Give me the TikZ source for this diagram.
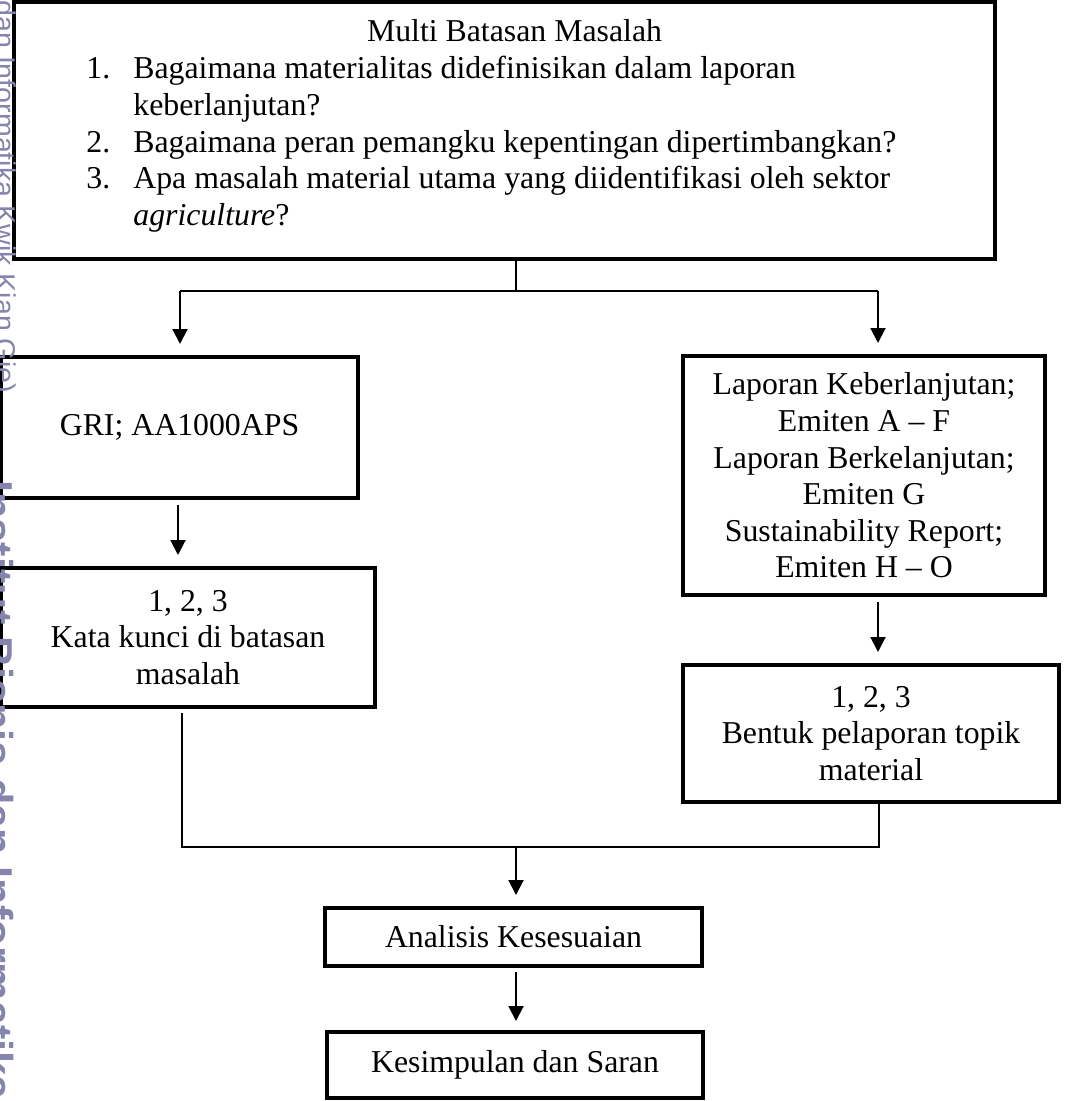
\documentclass[tikz,border=0pt]{standalone}
\usepackage{fontspec}
\setmainfont{Liberation Serif}
\newfontfamily\wmfont{Liberation Sans}
\usetikzlibrary{arrows.meta}
\definecolor{wmcol}{RGB}{132,132,172}
\begin{document}
\begin{tikzpicture}[x=0.5pt,y=-0.5pt,
  box/.style={draw, line width=2pt, inner sep=0pt, align=center,
    font=\fontsize{15.9pt}{18.3pt}\selectfont},
  txt/.style={inner sep=0pt, font=\fontsize{15.9pt}{18.3pt}\selectfont},
  conn/.style={line width=1pt},
  arr/.style={line width=1pt, -{Triangle[width=7.5pt,length=7.5pt]}, shorten >=5.5pt},
  wmark/.style={rotate=-90, inner sep=0pt, text=wmcol},
  ]
\useasboundingbox (0,0) rectangle (1065,1101);
% boxes
\node[box, minimum width=490.5pt, minimum height=128.5pt] (top) at (504.5,130.5) {};
\node[txt, anchor=base] (title) at (514.5,42) {Multi Batasan Masalah};
\node[txt, anchor=base west] (list) at (86,79) {\begin{tabular}[t]{@{}p{23.5pt}@{}l@{}}
1. & Bagaimana materialitas didefinisikan dalam laporan\\
   & keberlanjutan?\\
2. & Bagaimana peran pemangku kepentingan dipertimbangkan?\\
3. & Apa masalah material utama yang diidentifikasi oleh sektor\\
   & \textit{agriculture}?
\end{tabular}};
\node[box, minimum width=178.5pt, minimum height=70.5pt] (gri) at (179.5,427.5) {\raisebox{-2pt}{GRI; AA1000APS}};
\node[box, minimum width=187pt, minimum height=69.5pt] (kata) at (188,637.5) {1, 2, 3\\Kata kunci di batasan\\masalah};
\node[box, minimum width=181pt, minimum height=119.5pt] (lap) at (864,475.5) {Laporan Keberlanjutan;\\Emiten A -- F\\ Laporan Berkelanjutan;\\Emiten G\\Sustainability Report;\\Emiten H -- O};
\node[box, minimum width=188pt, minimum height=68.5pt] (bentuk) at (871,733.5) {1, 2, 3\\Bentuk pelaporan topik\\material};
\node[box, minimum width=188.5pt, minimum height=29pt] (ana) at (513.5,937) {Analisis Kesesuaian};
\node[box, minimum width=188pt, minimum height=33pt] (kes) at (515,1065) {\raisebox{-1.5pt}{Kesimpulan dan Saran}};
% junctions
\coordinate (s1) at (516,291);
\coordinate (jl) at (180,291);
\coordinate (jr) at (878,291);
\coordinate (xa) at (178,0);
\coordinate (bl) at (182,847);
\coordinate (br) at (879,847);
\coordinate (bm) at (516,847);
% connectors
\draw[conn] (top.south -| s1) -- (s1);
\draw[conn] (jl) -- (jr);
\draw[arr] (jl) -- (jl |- gri.north);
\draw[arr] (jr) -- (jr |- lap.north);
\draw[arr, shorten <=2.5pt] (gri.south -| xa) -- (kata.north -| xa);
\draw[arr, shorten <=2.5pt] (lap.south -| jr) -- (bentuk.north -| jr);
\draw[conn, shorten <=2pt] (kata.south -| bl) -- (bl) -- (br) -- (bentuk.south -| br);
\draw[arr] (bm) -- (ana.north -| bm);
\draw[arr, shorten <=2pt, shorten >=4.5pt] (ana.south -| bm) -- (kes.north -| bm);
% watermark
\begin{scope}
\clip (0,0) rectangle (1065,1101);
\node[wmark, anchor=base west, font=\wmfont\fontsize{14.3pt}{14.3pt}\selectfont] (wma) at (-4,0) {dan Informatika Kwik Kian Gie)};
\node[wmark, anchor=base west, font=\wmfont\bfseries\fontsize{21.6pt}{21.6pt}\selectfont] (wmb) at (-18,480) {Institut Bisnis dan Informatika};
\end{scope}
\end{tikzpicture}
\end{document}
